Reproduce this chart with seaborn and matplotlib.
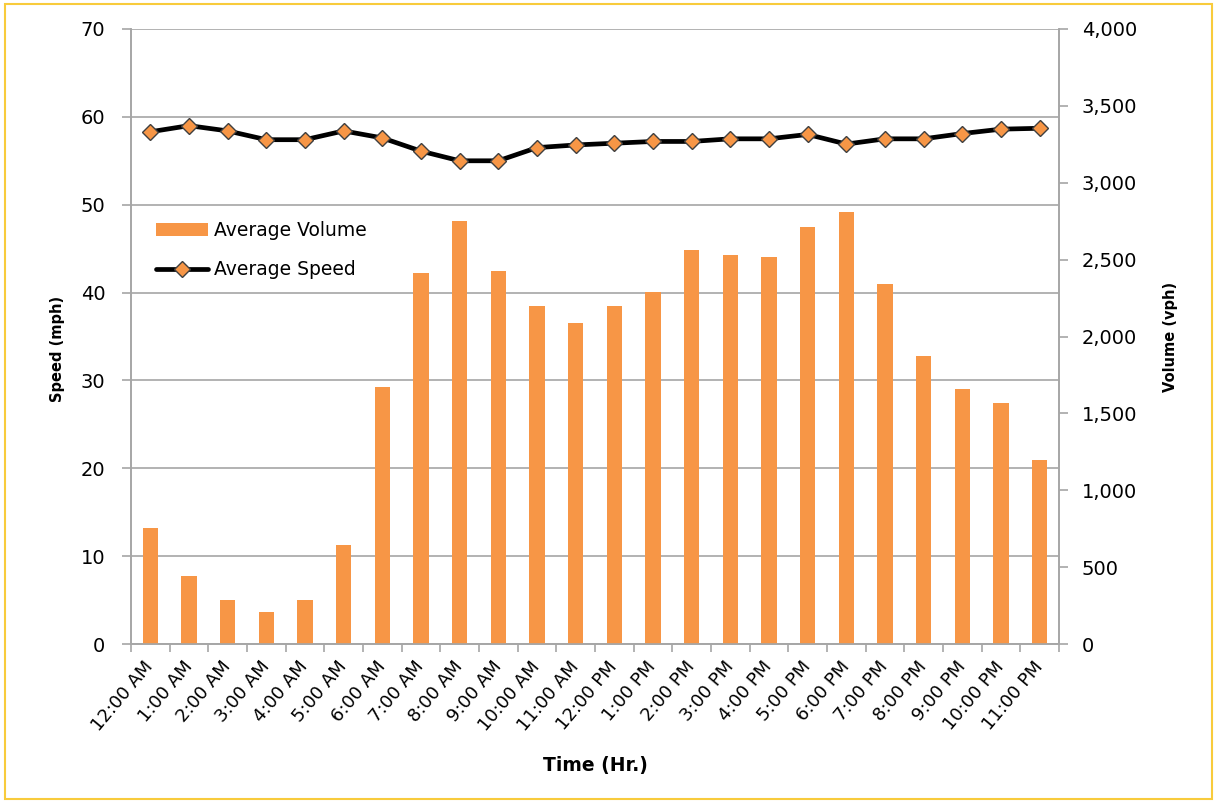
import matplotlib
matplotlib.use("Agg")
import matplotlib.pyplot as plt
from matplotlib.patches import Rectangle, Patch
from matplotlib.lines import Line2D
from matplotlib.ticker import FuncFormatter, MultipleLocator
import seaborn as sns

# Hourly data
hours = ["12:00 AM", "1:00 AM", "2:00 AM", "3:00 AM", "4:00 AM", "5:00 AM",
         "6:00 AM", "7:00 AM", "8:00 AM", "9:00 AM", "10:00 AM", "11:00 AM",
         "12:00 PM", "1:00 PM", "2:00 PM", "3:00 PM", "4:00 PM", "5:00 PM",
         "6:00 PM", "7:00 PM", "8:00 PM", "9:00 PM", "10:00 PM", "11:00 PM"]
volume = [754, 440, 286, 211, 286, 646, 1669, 2411, 2749, 2423, 2200, 2086,
          2200, 2291, 2560, 2531, 2520, 2709, 2811, 2343, 1874, 1657, 1566, 1200]
speed = [58.3, 59.0, 58.4, 57.4, 57.4, 58.4, 57.6, 56.1, 55.0, 55.0, 56.5, 56.8,
         57.0, 57.2, 57.2, 57.5, 57.5, 58.0, 56.9, 57.5, 57.5, 58.1, 58.6, 58.7]

orange = "#F79646"
gray = "#A6A6A6"

sns.set_style("white")
plt.rcParams["font.family"] = ["DejaVu Sans"]
plt.rcParams["text.color"] = "black"
plt.rcParams["axes.labelcolor"] = "black"
plt.rcParams["xtick.color"] = "black"
plt.rcParams["ytick.color"] = "black"

fig = plt.figure(figsize=(12.15, 8.02), dpi=100)
ax = fig.add_axes([131 / 1215, 1 - 644 / 802, 928 / 1215, 615 / 802])
ax2 = ax.twinx()

# speed line on the left axis
sns.pointplot(x=hours, y=speed, ax=ax, color="black", markers="D",
              errorbar=None, linewidth=3.4, markersize=8.5,
              markerfacecolor=orange, markeredgecolor="#3F3F3F",
              markeredgewidth=1.0)

# volume bars on the right axis
sns.barplot(x=hours, y=volume, ax=ax2, color=orange, saturation=1,
            width=0.39, edgecolor="none", errorbar=None)

ax.set_ylim(0, 70)
ax.yaxis.set_major_locator(MultipleLocator(10))
ax2.set_ylim(0, 4000)
ax2.yaxis.set_major_locator(MultipleLocator(500))
ax2.yaxis.set_major_formatter(FuncFormatter(lambda v, p: f"{int(v):,}"))
ax.set_xlim(-0.5, len(hours) - 0.5)

ax.grid(axis="y", color=gray, linewidth=1.2)
ax.grid(axis="x", visible=False)
ax2.grid(False)
ax.set_axisbelow(True)

for a in (ax, ax2):
    for s in a.spines.values():
        s.set_color(gray)
        s.set_linewidth(1.2)
    a.spines["top"].set_visible(False)

ax.tick_params(axis="y", direction="out", length=6.5, width=1.2, color=gray,
               pad=12, labelsize=14, labelcolor="black", left=True)
ax2.tick_params(axis="y", direction="out", length=6.5, width=1.2, color=gray,
                pad=10, labelsize=14, labelcolor="black", right=True)

ax.set_xticks(range(len(hours)))
ax.set_xticklabels(hours, rotation=50, ha="right", va="center",
                   rotation_mode="anchor", fontsize=13)
ax.set_xticks([i - 0.5 for i in range(len(hours) + 1)], minor=True)
ax.tick_params(axis="x", which="major", length=0, pad=14, labelcolor="black")
ax.tick_params(axis="x", which="minor", direction="out", length=6, width=1.2,
               color=gray, bottom=True)

ax.set_xlabel("Time (Hr.)", fontsize=13.5, fontweight="bold")
ax.set_ylabel("Speed (mph)", fontsize=10.5, fontweight="bold")
ax2.set_ylabel("Volume (vph)", fontsize=10.5, fontweight="bold")
ax.xaxis.set_label_coords(0.5, -0.182)
ax.yaxis.set_label_coords(-0.071, 0.48)
ax2.yaxis.set_label_coords(1.112, 0.5)

handles = [Patch(facecolor=orange, edgecolor="none"),
           Line2D([], [], color="black", linewidth=3.4, marker="D",
                  markersize=8.5, markerfacecolor=orange,
                  markeredgecolor="#3F3F3F")]
ax2.legend(handles, ["Average Volume", "Average Speed"], loc="upper left",
           bbox_to_anchor=(148 / 1215, 1 - 214 / 802),
           bbox_transform=fig.transFigure, frameon=False, fontsize=13.5,
           handlelength=2.8, handletextpad=0.3, labelspacing=1.05,
           borderaxespad=0)

# thin yellow frame around the chart
fig.patches.append(Rectangle((5 / 1215, 3 / 802), 1207 / 1215, 795 / 802,
                             transform=fig.transFigure, fill=False,
                             edgecolor="#F8CB3C", linewidth=1.5))

fig.savefig("out.png", dpi=100)
